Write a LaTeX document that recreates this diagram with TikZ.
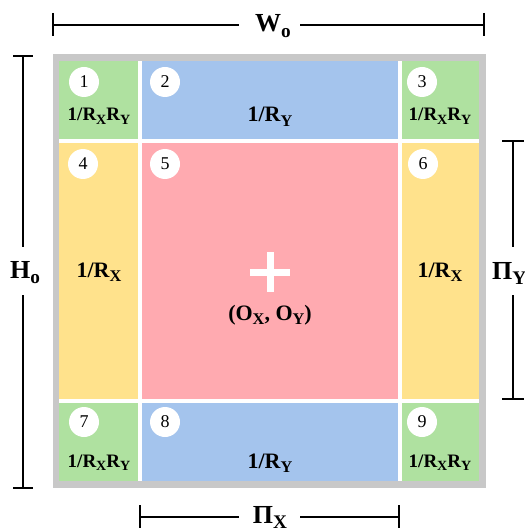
\documentclass[tikz,border=0pt]{standalone}
\usepackage{fontspec}
\usepackage{graphicx}
\setmainfont{Liberation Serif}
\definecolor{cgreen}{RGB}{175,225,160}
\definecolor{cblue}{RGB}{164,196,237}
\definecolor{cpink}{RGB}{255,170,176}
\definecolor{cyellow}{RGB}{255,226,140}
\definecolor{cgray}{RGB}{200,200,200}
\newcommand\sbx[1]{\raisebox{-0.2em}{\scalebox{0.74}{#1}}}
\begin{document}
\begin{tikzpicture}[x=1pt,y=-1pt,
  num/.style={circle,fill=white,draw=none,minimum size=30pt,inner sep=0pt,font=\fontsize{18}{21}\selectfont},
  small/.style={anchor=base,inner sep=0pt,font=\fontsize{19}{23}\selectfont\bfseries},
  big/.style={anchor=base,inner sep=0pt,font=\fontsize{22}{26}\selectfont\bfseries},
  dim/.style={inner sep=0pt,anchor=base,font=\fontsize{26}{30}\selectfont\bfseries},
  dline/.style={line width=1.5pt}]
\useasboundingbox (0,0) rectangle (524,529);
% frame
\fill[cgray] (53,54) rectangle (486,488);
\fill[white] (59,61) rectangle (479,481);
% cells
\fill[cgreen]  (59,61) rectangle (138,139);
\fill[cblue]   (142,61) rectangle (398,139);
\fill[cgreen]  (402,61) rectangle (479,139);
\fill[cyellow] (59,143) rectangle (138,399);
\fill[cpink]   (142,143) rectangle (398,399);
\fill[cyellow] (402,143) rectangle (479,399);
\fill[cgreen]  (59,403) rectangle (138,481);
\fill[cblue]   (142,403) rectangle (398,481);
\fill[cgreen]  (402,403) rectangle (479,481);
% numbers
\node[num] (n1) at (84,82) {1};
\node[num] (n2) at (165,82) {2};
\node[num] (n3) at (422,82) {3};
\node[num] (n4) at (83,164) {4};
\node[num] (n5) at (165,164) {5};
\node[num] (n6) at (423,164) {6};
\node[num] (n7) at (84,422) {7};
\node[num] (n8) at (165,422) {8};
\node[num] (n9) at (422,422) {9};
% labels
\node[small] (l1) at (99,121) {1/R\sbx{X}R\sbx{Y}};
\node[big] (l2) at (270,122) {1/R\sbx{Y}};
\node[small] (l3) at (440,121) {1/R\sbx{X}R\sbx{Y}};
\node[big] (l4) at (99,277) {1/R\sbx{X}};
\node[big] (l5) at (270,320) {(O\sbx{X}, O\sbx{Y})};
\node[big] (l6) at (440,277) {1/R\sbx{X}};
\node[small] (l7) at (99,467) {1/R\sbx{X}R\sbx{Y}};
\node[big] (l8) at (270,468) {1/R\sbx{Y}};
\node[small] (l9) at (440,467) {1/R\sbx{X}R\sbx{Y}};
% cross
\fill[white] (250,268.5) rectangle (290,275.5);
\fill[white] (266.5,252) rectangle (273.5,292);
% W_o
\node[dim] (wo) at (273,32) {W\sbx{o}};
\coordinate (wl) at (53,25); \coordinate (wr) at (484,25);
\draw[dline] (wl) -- (239,25) (300,25) -- (wr);
\draw[dline] (53,13) -- (53,36) (484,13) -- (484,36);
% H_o
\node[dim] (ho) at (25,278) {H\sbx{o}};
\draw[dline] (23,56) -- (23,247) (23,295) -- (23,488);
\draw[dline] (13,56) -- (33,56) (13,488) -- (33,488);
% Pi_Y
\node[dim,anchor=base west] (py) at (492,279) {Π\sbx{Y}};
\draw[dline] (513,141) -- (513,247) (513,295) -- (513,399);
\draw[dline] (502,141) -- (524,141) (502,399) -- (524,399);
% Pi_X
\node[dim] (px) at (270,523) {Π\sbx{X}};
\draw[dline] (140,517) -- (239,517) (300,517) -- (399,517);
\draw[dline] (140,505) -- (140,528) (399,505) -- (399,528);
\end{tikzpicture}
\end{document}
